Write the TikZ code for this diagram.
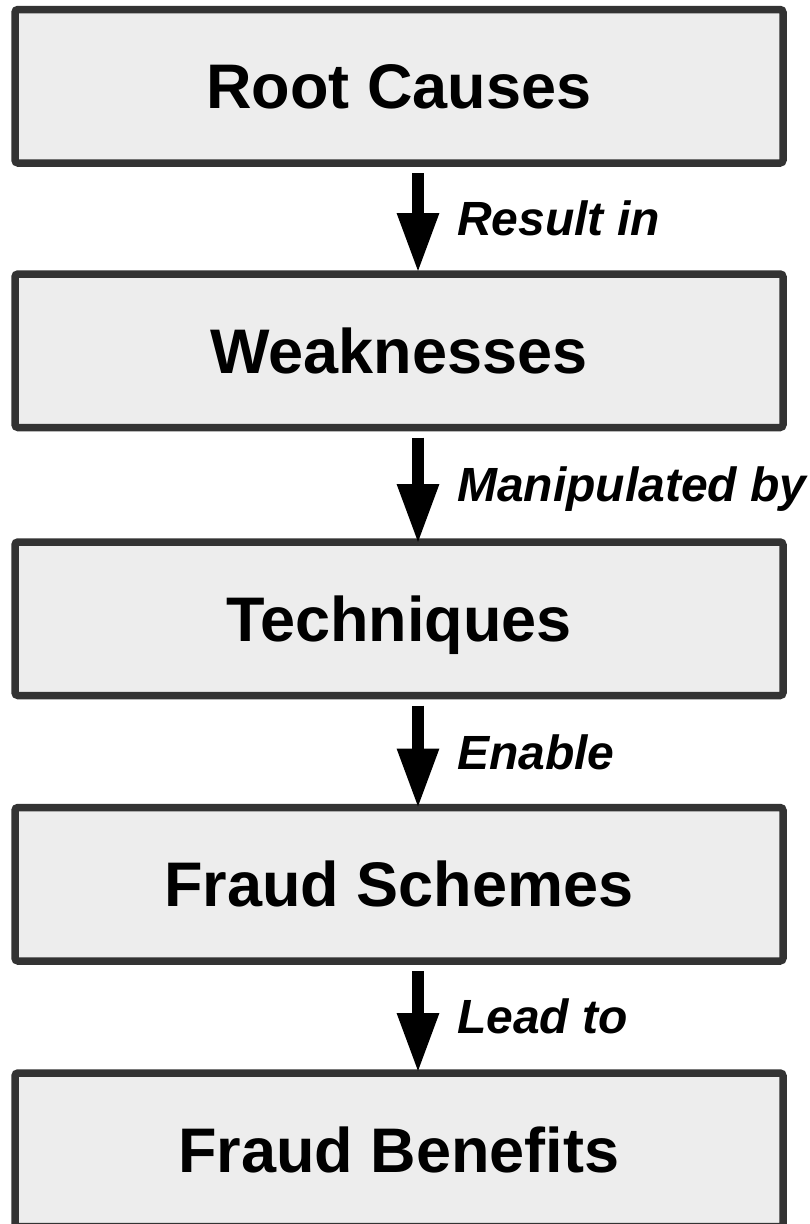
\documentclass[tikz,border=0pt]{standalone}
\usepackage{fontspec}
\setmainfont{Liberation Sans}
\usetikzlibrary{arrows.meta}
\definecolor{boxline}{HTML}{333333}
\definecolor{boxfill}{HTML}{EDEDED}
\tikzset{
  stage/.style={draw=boxline, fill=boxfill, line width=7.5pt, rounded corners=3pt,
    minimum width=768pt, minimum height=153.5pt, inner sep=0pt, outer sep=0pt,
    text height=45pt, text depth=0pt,
    font=\fontsize{63}{70}\selectfont\bfseries},
  flow/.style={line width=12pt, -{Triangle[length=60pt,width=39pt]}},
  verb/.style={anchor=base west, inner sep=0pt,
    font=\fontsize{48}{54}\selectfont\bfseries\itshape}
}
\begin{document}
\begin{tikzpicture}[x=1pt, y=-1pt]
  \useasboundingbox (0,0) rectangle (810,1224);
  % the five stages of the chain
  \node[stage] (root)     at (399,86.25)   {Root Causes};
  \node[stage] (weak)     at (399,350.75)  {Weaknesses};
  \node[stage] (tech)     at (399,618.75)  {Techniques};
  \node[stage] (schemes)  at (399,884.25)  {Fraud Schemes};
  \node[stage] (benefits) at (399,1149.75) {Fraud Benefits};
  % connecting arrows
  \draw[flow] ([xshift=19pt,yshift=-10pt]root.south)    -- ([xshift=19pt,yshift=1pt]weak.north);
  \draw[flow] ([xshift=19pt,yshift=-10pt]weak.south)    -- ([xshift=19pt,yshift=-2pt]tech.north);
  \draw[flow] ([xshift=19pt,yshift=-10pt]tech.south)    -- ([xshift=19pt,yshift=-1pt]schemes.north);
  \draw[flow] ([xshift=19pt,yshift=-10pt]schemes.south) -- ([xshift=19pt]benefits.north);
  % arrow labels
  \node[verb] (l1) at (457,235.3)  {Result in};
  \node[verb] (l2) at (457,501.3)  {Manipulated by};
  \node[verb] (l3) at (457,769)    {Enable};
  \node[verb] (l4) at (457,1033.5) {Lead to};
\end{tikzpicture}
\end{document}
